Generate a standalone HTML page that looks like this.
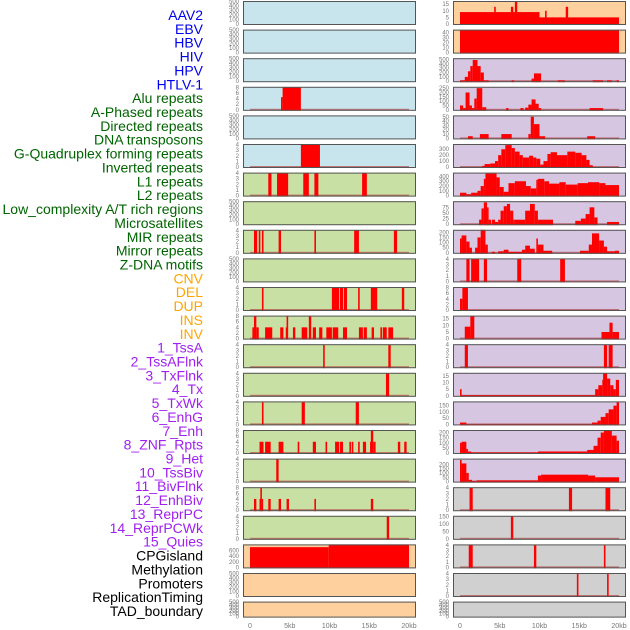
<!DOCTYPE html>
<html><head><meta charset="utf-8"><style>
html,body{margin:0;padding:0;background:#fff;width:630px;height:630px;overflow:hidden}
svg{display:block}
</style></head><body>
<svg id="chart" width="630" height="630" xmlns="http://www.w3.org/2000/svg" font-family="Liberation Sans, sans-serif"></svg>
<script>
const labels=["AAV2","EBV","HBV","HIV","HPV","HTLV-1","Alu repeats","A-Phased repeats","Directed repeats","DNA transposons","G-Quadruplex forming repeats","Inverted repeats","L1 repeats","L2 repeats","Low_complexity A/T rich regions","Microsatellites","MIR repeats","Mirror repeats","Z-DNA motifs","CNV","DEL","DUP","INS","INV","1_TssA","2_TssAFlnk","3_TxFlnk","4_Tx","5_TxWk","6_EnhG","7_Enh","8_ZNF_Rpts","9_Het","10_TssBiv","11_BivFlnk","12_EnhBiv","13_ReprPC","14_ReprPCWk","15_Quies","CPGisland","Methylation","Promoters","ReplicationTiming","TAD_boundary"];
const labelGroups=[6,13,5,15,5];
const groupColors=["#0000ee","#006400","#ffa500","#a020f0","#000000"];
const xTicks=[0,5,10,15,20];
const xTickLabels=["0","5kb","10kb","15kb","20kb"];
const leftBg=["#c8e4ec","#c8e4ec","#c8e4ec","#c8e4ec","#c8e4ec","#c8e4ec","#c8e0a4","#c8e0a4","#c8e0a4","#c8e0a4","#c8e0a4","#c8e0a4","#c8e0a4","#c8e0a4","#c8e0a4","#c8e0a4","#c8e0a4","#c8e0a4","#c8e0a4","#fed09e","#fed09e","#fed09e"];
const rightBg=["#fed09e","#fed09e","#d6c6e2","#d6c6e2","#d6c6e2","#d6c6e2","#d6c6e2","#d6c6e2","#d6c6e2","#d6c6e2","#d6c6e2","#d6c6e2","#d6c6e2","#d6c6e2","#d6c6e2","#d6c6e2","#d6c6e2","#d0d0d0","#d0d0d0","#d0d0d0","#d0d0d0","#d0d0d0"];
const leftMax=[500,500,500,8,500,4,4,500,4,500,4,8,4,4,4,8,4,8,4,800,500,500];
const rightMax=[17,45,520,260,52,380,470,100,220,4,8,17,4,17,180,220,260,4,150,4,4,500];
const leftTicks=[[0,100,200,300,400,500],[0,100,200,300,400,500],[0,100,200,300,400,500],[0,2,4,6,8],[0,100,200,300,400,500],[0,1,2,3,4],[0,1,2,3,4],[0,100,200,300,400,500],[0,1,2,3,4],[0,100,200,300,400,500],[0,1,2,3,4],[0,2,4,6,8],[0,1,2,3,4],[0,1,2,3,4],[0,1,2,3,4],[0,2,4,6,8],[0,1,2,3,4],[0,2,4,6,8],[0,1,2,3,4],[0,200,400,600],[0,100,200,300,400,500],[0,100,200,300,400,500]];
const rightTicks=[[0,5,10,15],[0,10,20,30,40],[0,100,200,300,400,500],[0,50,100,150,200,250],[0,10,20,30,40,50],[0,100,200,300],[0,100,200,300,400],[0,25,50,75],[0,50,100,150,200],[0,1,2,3,4],[0,2,4,6,8],[0,5,10,15],[0,1,2,3,4],[0,5,10,15],[0,50,100,150],[0,50,100,150,200],[0,50,100,150,200],[0,1,2,3,4],[0,50,100,150],[0,1,2,3,4],[0,1,2,3,4],[0,100,200,300,400,500]];
// segments: [startKb, endKb, value]
const leftData=[[],[],[],
[[3.9,4.1,4.5],[4.1,6.4,8]],[],
[[6.4,8.8,4]],
[[2.3,2.7,4],[3.4,4.8,4],[6.7,7.4,4],[8.1,8.6,4],[14.1,14.7,4]],
[],
[[0.5,0.9,4],[1.1,1.3,4],[1.5,1.7,4],[3.6,3.9,4],[8.1,8.3,4],[13.1,13.7,4],[18.1,18.5,4]],
[],
[[1.5,1.7,4],[10.3,11.2,4],[11.3,11.7,4],[11.8,12.2,4],[13.6,13.8,4],[15.2,16.0,4],[19.1,19.4,4]],
[[0.3,0.5,4],[0.5,0.8,8],[0.8,1.1,4],[1.9,2.8,4],[3.8,4.2,4],[4.5,4.6,4],[4.6,4.8,8],[5.4,5.7,4],[6.5,7.2,4],[7.4,7.7,8],[7.9,8.3,4],[8.7,9.1,4],[9.6,10.3,4],[10.4,11.1,4],[11.7,12.2,4],[13.7,14.2,4],[14.3,14.7,4],[15.3,15.6,4],[16.4,16.6,4],[16.7,17.2,4],[17.4,18.0,4]],
[[9.2,9.4,4],[17.4,17.7,4]],
[[17.1,17.5,4]],
[[1.5,1.7,4],[6.5,6.9,4],[13.3,13.7,4]],
[[1.2,1.7,4],[1.9,2.6,4],[3.6,4.2,4],[6.0,6.2,4],[7.9,8.3,4],[9.5,9.7,4],[10.7,11.2,4],[11.3,11.7,4],[12.5,12.7,4],[12.8,13.0,4],[13.6,13.8,4],[14.2,14.6,4],[15.1,15.2,4],[15.2,15.5,8],[15.5,15.8,4],[18.6,18.9,4],[19.4,19.7,4]],
[[3.3,3.6,4]],
[[0.5,0.8,4],[1.2,1.3,4],[1.3,1.5,8],[1.5,1.6,4],[2.3,2.6,4],[3.6,3.9,4],[4.6,4.9,4],[8.1,8.3,4],[15.2,15.5,4]],
[[17.2,17.5,4]],
[[0,9.9,720],[9.9,20,820]],
[],[]];
const rightData=[
[[0,10,9],[10,20,5],[4.3,4.5,13],[6.4,6.7,13],[6.9,7.2,17],[10.7,10.9,10],[13.3,13.6,13]],
[[0,20,45]],
[[0,0.6,20],[0.6,1,100],[1,1.3,230],[1.3,1.6,350],[1.6,2.2,490],[2.2,2.6,350],[2.6,3,200],[3,3.6,20],[6.5,6.8,20],[9,9.3,60],[9.3,10.2,180],[12.3,13.2,20],[16.7,18,20],[18.5,19.1,20],[19.7,20,20]],
[[0,0.4,50],[0.4,0.7,20],[0.7,1.2,200],[1.2,1.5,50],[1.5,1.8,20],[1.8,2.1,130],[2.1,2.8,250],[2.8,3.3,30],[5.8,6.1,20],[7.6,8,20],[8.2,8.6,25],[8.6,9,60],[9,9.5,120],[9.5,9.9,70],[9.9,10.2,20],[16.3,17.6,20],[17.6,18,20]],
[[1.0,1.6,5],[2.5,3.6,10],[5.2,6.5,10],[8.6,8.9,10],[8.9,9.3,50],[9.3,10,33],[10,10.7,5],[16,17,5]],
[[2.8,3.1,20],[3.1,3.8,50],[3.8,4.4,60],[4.4,4.8,100],[4.8,5.2,200],[5.2,5.7,300],[5.7,6.5,370],[6.5,6.9,320],[6.9,7.5,260],[7.5,7.9,200],[7.9,8.7,160],[8.7,9.2,190],[9.2,9.6,160],[9.6,10.1,140],[10.1,10.5,40],[10.5,11,100],[11,11.4,220],[11.4,12.2,250],[12.2,13.5,200],[13.5,14.5,260],[14.5,15.3,240],[15.3,15.9,200],[15.9,16.3,120],[16.3,16.7,30]],
[[0,0.8,60],[0.8,1.4,30],[1.4,2.2,60],[2.2,2.6,100],[2.6,3,200],[3,3.2,350],[3.2,4.6,460],[4.6,5,380],[5,5.5,180],[5.5,6.1,80],[6.1,6.9,260],[6.9,8.3,300],[8.3,8.9,200],[8.9,9.6,150],[9.6,9.8,330],[9.8,10.6,350],[10.6,11.2,300],[11.2,12.5,250],[12.5,13.3,280],[13.3,14.8,230],[14.8,16.1,260],[16.1,17.5,280],[17.5,18.3,260],[18.3,20,220]],
[[2.4,2.7,20],[2.7,3.0,70],[3.0,3.4,97],[3.4,3.6,75],[3.6,3.9,20],[4,4.4,20],[4.4,4.8,10],[4.8,5.1,20],[5.1,5.5,60],[5.5,5.9,80],[5.9,6.3,90],[6.3,6.7,60],[6.7,6.9,20],[6.9,8.2,20],[8.2,8.8,60],[8.8,9.4,90],[9.4,9.8,60],[9.8,10.5,20],[10.5,11.7,20],[14.5,15.2,15],[15.2,15.8,25],[15.8,16.3,45],[16.3,16.9,75],[16.9,17.3,30],[18.5,20,10]],
[[0,0.2,140],[0.2,0.8,170],[0.8,1.2,110],[1.2,1.5,50],[1.9,2.2,50],[2.2,2.6,150],[2.6,3.2,230],[3.2,3.5,80],[4,4.4,10],[4.8,5.5,15],[5.5,6.1,30],[6.1,7.8,10],[7.8,8.2,30],[8.2,8.8,70],[8.8,9.4,40],[9.6,9.8,140],[9.8,10.5,80],[10.5,11.6,20],[15.1,16.2,20],[16.2,16.6,80],[16.6,17.5,190],[17.5,18.1,120],[18.1,18.5,60],[18.5,19.5,15],[19.5,20,20]],
[[0.8,1.2,4],[1.4,2.4,4],[3,3.4,4],[7.2,7.7,4],[12.6,13.2,4]],
[[0,0.3,4],[0.3,1.0,8]],
[[0.6,1.3,9],[1.3,1.8,17],[17.8,18.8,5],[18.8,19.2,12],[19.2,20,5]],
[[0.6,1.0,4],[18.1,18.5,4],[18.7,19.2,4]],
[[0,0.2,5],[0.2,17,0.5],[17,17.4,5],[17.4,17.9,8],[17.9,18,12],[18,18.5,17],[18.5,18.9,13],[18.9,19.3,8],[19.3,19.6,5],[19.6,20,12]],
[[0,0.8,15],[0.8,16.6,2],[16.6,17.3,15],[17.3,17.7,30],[17.7,18.3,60],[18.3,18.7,90],[18.7,19.3,120],[19.3,19.7,150],[19.7,20,180]],
[[0,0.2,100],[0.2,0.8,110],[0.8,1,40],[1,1.4,15],[1.4,9.8,5],[9.8,16,15],[16,16.8,30],[16.8,17.3,70],[17.3,17.7,150],[17.7,18.1,200],[18.1,19.1,215],[19.1,19.7,170],[19.7,20,120]],
[[0,0.2,250],[0.2,0.8,210],[0.8,1.1,100],[1.1,1.5,20],[1.5,2.1,8],[2.1,9.8,15],[9.8,10.2,70],[10.2,16.1,80],[16.1,17,70],[17,20,50]],
[[1.2,1.6,4],[13.7,14.1,4],[18.3,18.9,4]],
[[6.4,6.7,150]],
[[1.1,1.6,4],[9.3,9.6,4],[18.1,18.3,4]],
[[14.7,14.9,4],[18.5,18.7,4]],
[]];

const svg=document.getElementById('chart');
const NS="http://www.w3.org/2000/svg";
function mk(tag,attrs,parent){const e=document.createElementNS(NS,tag);for(const k in attrs)e.setAttribute(k,attrs[k]);(parent||svg).appendChild(e);return e;}

let li=0;
labelGroups.forEach((n,g)=>{for(let i=0;i<n;i++){
  const t=mk('text',{x:203,y:20+li*13.86,'text-anchor':'end','font-size':14,fill:groupColors[g]});
  t.textContent=labels[li];
  
  
  li++;}});

const cols=[{x0:243,x1:416,z:250,s:7.95,bg:leftBg,max:leftMax,ticks:leftTicks,data:leftData,tx:239,name:'left'},
            {x0:453,x1:626,z:460,s:7.95,bg:rightBg,max:rightMax,ticks:rightTicks,data:rightData,tx:449,name:'right'}];
const rows=22;
cols.forEach(c=>{
  const xs=kb=>c.z+kb*c.s;
  for(let r=0;r<rows;r++){
    const top=1+r*28.6, h=(r===rows-1)?16:24, bot=top+h;
    const g=mk('g',{});
    
    
    mk('rect',{x:c.x0,y:top,width:c.x1-c.x0,height:h,fill:c.bg[r]},g);
    const ymax=c.max[r];
    const ys=v=>bot-1-(v/ymax)*(h-1.5);
    const segs=c.data[r];
    if(segs.length) mk('rect',{x:xs(0),y:bot-2,width:xs(20)-xs(0),height:1.5,fill:'#b03030','fill-opacity':0.6},g);
    segs.forEach(s=>{
      const y=Math.max(top,ys(s[2]));
      const b=mk('rect',{x:xs(s[0]),y:y,width:Math.max(1.2,xs(s[1])-xs(s[0])),height:bot-y,fill:'#ff0000'},g);
      
      
    });
    mk('rect',{x:c.x0+0.5,y:top+0.5,width:c.x1-c.x0-1,height:h-1,fill:'none',stroke:'#555','stroke-width':1},g);
    c.ticks[r].forEach(t=>{
      const tt=mk('text',{x:c.tx,y:ys(t)+2,'text-anchor':'end','font-size':6,fill:'#777'},g);
      tt.textContent=t;
    });
  }
  xTicks.forEach((t,i)=>{
    const tl=mk('text',{x:xs(t),y:628,'text-anchor':'middle','font-size':7,fill:'#777'});
    tl.textContent=xTickLabels[i];
    
    
  });
});
</script>
</body></html>
